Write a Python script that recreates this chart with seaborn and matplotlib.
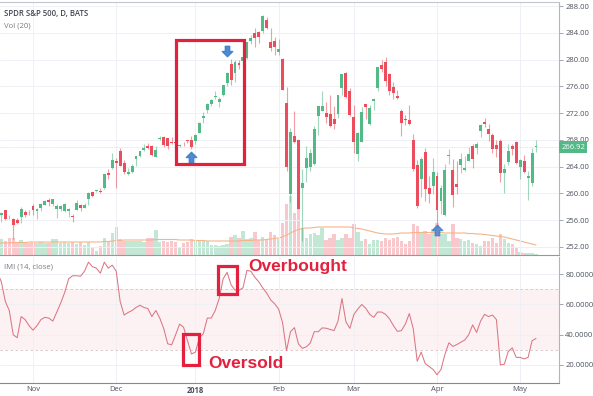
import numpy as np
import pandas as pd
import matplotlib
matplotlib.use("Agg")
import matplotlib.pyplot as plt
import matplotlib.transforms as mtransforms
from matplotlib.patches import Rectangle
from matplotlib.path import Path
import seaborn as sns

# SPDR S&P 500 (daily, BATS), Oct 19 2017 - May 7 2018
holidays = ["2017-11-23", "2017-12-25", "2018-01-01", "2018-01-15", "2018-02-19", "2018-03-30"]
dates = pd.bdate_range("2017-10-19", "2018-05-07").drop(pd.to_datetime(holidays))

opens = [254.83, 256.70, 257.48, 256.60, 256.18, 255.99, 256.47, 257.18, 257.18,
         258.04, 257.41, 257.77, 258.30, 258.97, 258.47, 257.73, 257.73, 257.31, 257.41, 256.47,
         257.52, 258.22, 257.86, 259.18, 260.18, 260.33, 260.41, 260.76, 263.02, 263.76,
         264.76, 266.31, 264.52, 262.89, 263.19, 265.15, 265.58, 266.52, 267.06, 267.09,
         265.45, 268.10, 268.48, 268.27, 267.74, 267.60, 267.05, 267.38, 267.89, 267.95,
         267.84, 268.96, 271.20, 272.51, 273.31, 274.40, 273.68, 274.75, 276.42, 279.35,
         278.03, 279.48, 279.80, 280.17, 282.74, 284.02, 284.16, 284.25, 285.93, 282.60, 282.73,
         281.07, 280.08, 273.45, 259.94, 268.50, 268.01, 260.80, 263.83, 263.97, 264.31,
         271.57, 272.32, 272.03, 271.90, 271.10, 271.79, 275.75, 277.95, 275.30,
         271.41, 265.81, 267.73, 273.30, 270.42, 273.78, 275.71, 279.20, 279.64, 277.81,
         275.88, 274.50, 272.35, 270.98, 270.90, 267.91, 264.17, 262.13, 266.17, 260.75, 261.12,
         262.55, 258.87, 256.75, 265.55, 263.42, 261.37, 264.27, 263.47, 264.84, 267.00,
         266.78, 269.34, 270.62, 269.67, 268.77, 267.26, 267.76, 263.10, 264.74, 267.04, 267.63,
         263.87, 264.76, 262.26, 261.52, 266.89]
highs = [255.83, 257.14, 257.51, 256.83, 256.31, 256.30, 257.89, 257.44, 257.44,
         258.43, 257.75, 258.50, 259.00, 259.35, 259.22, 258.39, 258.29, 258.59, 257.85, 256.96,
         259.04, 258.39, 258.59, 260.20, 260.26, 260.48, 260.75, 262.90, 263.63, 266.05,
         265.31, 266.80, 265.05, 263.82, 264.43, 265.52, 266.40, 267.32, 267.56, 267.22,
         267.04, 268.60, 268.53, 268.33, 268.39, 267.63, 267.44, 267.73, 267.92, 268.55,
         268.81, 270.64, 272.16, 273.56, 274.10, 275.25, 274.42, 276.12, 278.11, 280.09,
         279.96, 279.96, 280.41, 282.69, 283.62, 284.70, 284.27, 286.63, 286.43, 284.74, 283.30,
         283.06, 280.23, 275.85, 269.70, 272.36, 268.17, 263.61, 267.01, 266.62, 270.00,
         273.04, 275.32, 273.67, 274.72, 273.05, 274.71, 277.91, 278.08, 275.71,
         273.17, 269.24, 272.89, 273.39, 273.18, 274.24, 278.87, 279.91, 280.41, 278.02,
         276.71, 275.39, 272.63, 271.67, 273.27, 268.87, 265.02, 265.43, 266.77, 262.64, 265.26,
         263.13, 261.31, 264.36, 266.64, 265.11, 264.84, 266.04, 265.64, 266.88, 267.34,
         267.65, 270.38, 271.30, 270.42, 269.06, 267.93, 268.09, 264.31, 267.39, 267.35, 267.88,
         265.10, 265.68, 263.36, 266.79, 268.02]
lows = [254.35, 255.77, 256.02, 256.15, 253.10, 255.48, 255.63, 256.41, 256.80,
        256.83, 256.19, 257.30, 258.22, 258.09, 258.15, 256.36, 257.37, 257.27, 256.52, 255.64,
        257.47, 257.41, 257.77, 258.26, 259.39, 260.16, 260.00, 260.66, 262.20, 263.67,
        260.76, 264.08, 262.90, 262.71, 263.06, 264.03, 265.48, 266.35, 266.65, 265.60,
        265.39, 267.98, 266.90, 266.69, 267.30, 267.15, 266.89, 267.01, 267.45, 266.64,
        267.40, 268.96, 270.54, 271.95, 272.98, 274.08, 272.92, 274.56, 276.08, 276.18,
        276.68, 278.58, 279.14, 280.11, 282.37, 281.84, 282.41, 283.96, 284.50, 281.22, 280.68,
        280.68, 275.41, 263.31, 258.70, 267.58, 257.59, 252.92, 261.66, 263.31, 264.30,
        268.77, 272.27, 270.50, 269.94, 269.64, 271.25, 274.65, 274.26, 271.62,
        266.00, 264.82, 267.61, 271.18, 270.20, 272.43, 275.34, 278.08, 276.03, 274.67,
        274.10, 274.14, 268.61, 270.18, 270.19, 263.36, 257.83, 259.41, 258.84, 258.58, 259.84,
        254.67, 256.84, 256.60, 264.43, 258.00, 259.84, 262.98, 263.39, 264.80, 263.76,
        265.86, 268.45, 269.87, 267.86, 265.96, 265.40, 261.65, 260.05, 264.29, 265.72, 264.42,
        262.11, 263.11, 259.05, 261.15, 266.11]
closes = [255.79, 257.11, 256.11, 256.56, 255.29, 255.62, 257.71, 256.75, 257.15,
          257.49, 257.59, 258.45, 258.85, 258.67, 259.11, 258.17, 258.09, 258.33, 257.73, 256.44,
          258.62, 257.86, 258.30, 260.07, 259.62, 260.36, 260.23, 262.87, 262.71, 265.01,
          264.46, 264.14, 263.19, 263.24, 264.07, 265.51, 266.31, 266.78, 266.75, 265.66,
          266.51, 268.20, 267.17, 267.03, 267.58, 267.51, 267.19, 267.32, 267.87, 266.86,
          268.77, 270.47, 271.61, 273.42, 273.92, 274.54, 274.12, 276.12, 277.92, 276.97,
          279.61, 279.14, 280.41, 282.69, 283.29, 283.18, 283.30, 286.58, 284.68, 281.76, 281.90,
          281.58, 275.45, 263.93, 269.13, 267.67, 257.63, 261.50, 265.34, 266.00, 269.59,
          273.03, 273.11, 271.40, 270.05, 270.40, 274.71, 277.90, 274.43, 271.65,
          267.70, 269.08, 272.19, 272.88, 272.78, 274.10, 278.87, 278.52, 276.72, 275.30,
          275.00, 274.20, 270.49, 270.95, 270.43, 263.67, 258.05, 265.11, 260.60, 259.83, 263.15,
          257.47, 260.77, 263.56, 265.64, 259.72, 261.00, 265.15, 263.76, 265.93, 265.15,
          267.33, 270.19, 270.39, 268.89, 266.61, 266.57, 262.98, 263.63, 266.31, 266.56, 264.51,
          264.98, 263.20, 262.62, 266.02, 266.92]

# BATS volume (relative units) and its 20-day average as drawn
volume = [16, 16, 14, 17, 17, 13, 15, 12, 12, 13, 12, 13, 12, 12, 16, 16, 12, 13, 12, 13,
          11, 13, 10, 13, 8, 4, 9, 17, 13, 22, 28, 16, 14, 14, 14, 14, 14, 13, 17, 17,
          25, 13, 14, 13, 14, 13, 7, 12, 13, 16, 14, 14, 14, 14, 10, 10, 9, 10, 11, 18,
          20, 17, 24, 16, 17, 23, 15, 18, 16, 23, 20, 16, 32, 51, 59, 42, 47, 27, 17, 21,
          22, 20, 27, 15, 17, 21, 15, 17, 21, 17, 31, 23, 14, 16, 11, 15, 15, 14, 17, 15,
          17, 18, 14, 11, 14, 31, 29, 23, 24, 21, 26, 32, 21, 21, 14, 31, 17, 16, 14, 15,
          12, 11, 9, 14, 14, 17, 12, 21, 16, 12, 11, 7, 3, 2, 2, 2, 1]
vol_ma = [12, 12, 12, 12, 12.5, 12.5, 12.5, 12.5, 13, 13, 13, 13, 13, 13, 13, 13, 13, 13, 13, 13,
          13, 13, 13, 13, 13, 13, 13, 13.5, 13.5, 14, 14.5, 14.5, 15, 15, 15, 15, 15, 15, 15, 15,
          15.5, 15.5, 15.5, 15.5, 15.5, 15.5, 15, 15, 15, 15, 14.5, 14.5, 14.5, 14, 14, 14, 14, 14, 14, 14,
          14, 14, 14.5, 14.5, 14.5, 15, 15, 15, 15.5, 16, 16.5, 17, 18, 20, 22, 24, 25.5, 26.5, 27, 27,
          27.5, 28, 28, 28, 28, 28, 28, 28, 28, 28, 27, 26.5, 26, 25, 24, 23, 22, 21.5, 21, 21,
          21, 21.5, 22, 22, 22, 22.5, 22.5, 22.5, 22.5, 22.5, 22.5, 22.5, 22.5, 22, 22, 22, 22, 22, 22, 21.5,
          21.5, 21, 21, 20.5, 20, 19.5, 19, 18.5, 18, 17, 16, 15, 14, 13, 12, 11, 10]

# Intraday Momentum Index (14, close)
imi = [81, 75, 62, 56, 40, 38, 52, 50, 46, 43, 46, 50, 51.5, 51, 49, 55, 61, 68, 77, 79,
       79, 78.7, 82, 88, 85, 84, 80.7, 88, 84, 86, 82, 62, 53, 54.7, 56, 58, 59.5, 58, 57.3, 52,
       56, 51, 44, 34, 33.3, 40, 47, 45, 36, 27.3, 28.5, 38, 40.7, 51, 51, 56, 64, 77, 81.3, 73,
       69.5, 69.5, 71, 82.5, 82, 78, 75, 71, 67.5, 63, 60.5, 57, 48, 29.5, 42, 44.7, 34, 31, 32, 34.5,
       42, 42, 44.5, 44.3, 43.5, 42.7, 49, 64, 48.5, 44.2, 53.3, 57, 60, 57.5, 53.5, 51.5, 55, 55, 53.5, 50.5,
       46, 42.2, 42.7, 47, 54, 44, 22.5, 28.5, 21, 19, 17, 13.5, 17, 27, 34.7, 32.3, 33.5, 35, 36.5, 40,
       46.5, 41.5, 49, 53.5, 52, 53, 50, 20, 20.5, 29, 31.3, 25, 25, 24, 25, 36, 37.5]

price_ticks = [252, 256, 260, 264, 268, 272, 276, 280, 284, 288]
imi_ticks = [20, 40, 60, 80]

# arrows drawn on the chart: day, price level, pointing up?
arrow_days = ["2017-12-29", "2018-01-12", "2018-04-02"]
arrow_levels = [265.4, 281.3, 254.5]
arrow_up = [True, False, True]

UP, DOWN = "#53b987", "#eb4d5c"
VOL_UP, VOL_DOWN = "#c3e7d5", "#f9c8cd"
MARK = "#e3213e"
ARROW = "#3c7fcb"
TXT = "#4c525e"

W, H, RIGHT = 593, 396, 559

sns.set_theme(style="white")
plt.rcParams["font.family"] = ["Open Sans", "DejaVu Sans"]

df = pd.DataFrame({"date": dates, "open": opens, "high": highs, "low": lows,
                   "close": closes, "volume": volume, "vol_ma": vol_ma, "imi": imi})
df["x"] = np.arange(len(df))
up = (df["close"] >= df["open"]).to_numpy()

fig = plt.figure(figsize=(W / 100, H / 100), dpi=100)


def panel(top, bottom):
    return [0, 1 - bottom / H, RIGHT / W, (bottom - top) / H]


ax_vol = fig.add_axes(panel(2, 255))
ax = fig.add_axes(panel(2, 255))
ax_imi = fig.add_axes(panel(257, 382.5))
ax.patch.set_alpha(0)

xlim = (0.66, 141.8)

# month ticks at first trading day of each month
months = dates.to_period("M")
month_pos = np.flatnonzero(months[1:] != months[:-1]) + 1
month_lbl = ["2018" if dates[i].month == 1 else dates[i].strftime("%b") for i in month_pos]

# --- volume ---
ax_vol.bar(df["x"], df["volume"], width=0.86, color=np.where(up, VOL_UP, VOL_DOWN), linewidth=0)
sns.lineplot(data=df, x="x", y="vol_ma", ax=ax_vol, color="#f5b48a", lw=0.8)
ax_vol.set_xlim(xlim)
ax_vol.set_ylim(0, 253)
ax_vol.set_axis_off()

# --- candles ---
col = np.where(up, UP, DOWN)
body_lo = df[["open", "close"]].min(axis=1)
body_h = (df["close"] - df["open"]).abs().clip(lower=0.12)
ax.vlines(df["x"], df["low"], df["high"], colors=col, lw=0.8, alpha=0.55, zorder=2)
ax.bar(df["x"], body_h, bottom=body_lo, width=0.74, color=col, linewidth=0, zorder=3)

last = closes[-1]
ax.axhline(last, color=UP, lw=0.6, alpha=0.35, ls=(0, (1, 1)), zorder=1)
trans = mtransforms.blended_transform_factory(ax.transAxes, ax.transData)
ax.text(1.004, last, f"{last:.2f}", transform=trans, ha="left", va="center", fontsize=5.5,
        color="white", bbox=dict(boxstyle="square,pad=0.3", fc=UP, ec="none"), zorder=6, clip_on=False)

ax.set_xlim(xlim)
ax.set_ylim(250.78, 288.6)
ax.yaxis.tick_right()
ax.set_yticks(price_ticks, [f"{v:.2f}" for v in price_ticks])
ax.set_xticks(month_pos)
ax.tick_params(axis="x", labelbottom=False, length=0)
ax.tick_params(axis="y", length=3, width=0.6, color="#9598a1", labelsize=5.5, labelcolor=TXT, pad=1.5)
ax.grid(True, color="#eef0f5", lw=0.7)
ax.set_axisbelow(True)
ax.spines["left"].set_visible(False)
ax.spines["right"].set_color("#b2b5be")
ax.spines["top"].set_color("#c3c6cc")
ax.spines["bottom"].set_color("#9598a1")
for s in ax.spines.values():
    s.set_linewidth(0.8)

ax.text(4 / RIGHT, 0.9526, "SPDR S&P 500, D, BATS", transform=ax.transAxes, fontsize=5.6,
        color="#434651", va="center", ha="left", fontweight="semibold")
ax.text(4 / RIGHT, 0.907, "Vol (20)", transform=ax.transAxes, fontsize=5.6,
        color="#787b86", va="center", ha="left")

# arrows
up_path = Path([(0, 1), (1, 0), (0.42, 0), (0.42, -1), (-0.42, -1), (-0.42, 0), (-1, 0), (0, 1)], closed=True)
down_path = Path([(vx, -vy) for vx, vy in up_path.vertices], closed=True)
for day, lvl, is_up in zip(arrow_days, arrow_levels, arrow_up):
    xi = dates.get_loc(pd.Timestamp(day))
    ax.plot([xi], [lvl], marker=up_path if is_up else down_path, ms=7.5, color=ARROW,
            ls="none", zorder=7, alpha=0.9 if lvl > 260 else 0.8)

# highlight box around the breakout
ax.add_patch(Rectangle((45.0, 264.35), 17.35, 18.57, fill=False, ec=MARK, lw=2.3, zorder=8, clip_on=False))

# --- IMI panel ---
ax_imi.axhspan(30, 70, color="#fcf1f3", lw=0, zorder=0)
for lvl in (30, 70):
    ax_imi.axhline(lvl, color="#d8c1c6", lw=0.6, ls=(0, (3, 3)), zorder=1)
sns.lineplot(data=df, x="x", y="imi", ax=ax_imi, color="#dc7682", lw=0.75, zorder=3)
ax_imi.set_xlim(xlim)
ax_imi.set_ylim(8.4, 91.4)
ax_imi.set_xlabel("")
ax_imi.set_ylabel("")
ax_imi.yaxis.tick_right()
ax_imi.set_yticks(imi_ticks, [f"{v:.4f}" for v in imi_ticks])
ax_imi.set_xticks(month_pos, month_lbl)
for t in ax_imi.get_xticklabels():
    if t.get_text() == "2018":
        t.set_fontweight("bold")
ax_imi.tick_params(axis="x", length=0, labelsize=5.5, labelcolor=TXT, pad=2.7)
ax_imi.tick_params(axis="y", length=3, width=0.6, color="#9598a1", labelsize=5.5, labelcolor=TXT, pad=1.5)
ax_imi.grid(True, color="#eef0f5", lw=0.7)
ax_imi.set_axisbelow(True)
ax_imi.spines["left"].set_visible(False)
ax_imi.spines["top"].set_visible(False)
ax_imi.spines["right"].set_color("#b2b5be")
ax_imi.spines["bottom"].set_color("#868993")
for s in ax_imi.spines.values():
    s.set_linewidth(0.8)

ax_imi.text(4 / RIGHT, 0.924, "IMI (14, close)", transform=ax_imi.transAxes, fontsize=5.6,
            color="#787b86", va="center", ha="left")

ax_imi.add_patch(Rectangle((55.7, 67.2), 4.8, 18.3, fill=False, ec=MARK, lw=2.3, zorder=8, clip_on=False))
ax_imi.add_patch(Rectangle((46.9, 19.8), 3.9, 20.9, fill=False, ec=MARK, lw=2.3, zorder=8, clip_on=False))
ax_imi.text(63.3, 82.2, "Overbought", color=MARK, fontsize=12.5, fontweight="bold",
            family="Liberation Sans", ha="left", va="baseline", clip_on=False, zorder=9)
ax_imi.text(53.3, 17.8, "Oversold", color=MARK, fontsize=12.5, fontweight="bold",
            family="Liberation Sans", ha="left", va="baseline", clip_on=False, zorder=9)

fig.savefig("out.png", dpi=100)
